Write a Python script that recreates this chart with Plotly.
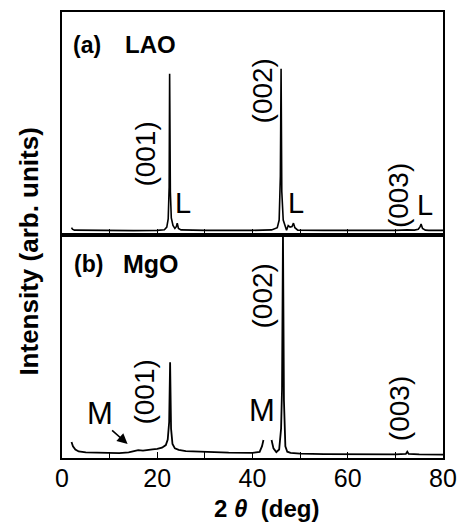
import plotly.graph_objects as go

# ---- data (2theta in deg, intensity in arb. units) ----
lao_x = [2.0, 2.2, 2.6, 5, 10, 15, 20, 21.5, 22.0, 22.3, 22.5, 22.6, 22.75, 22.95, 23.3, 23.7, 24.0, 24.2, 24.45, 25.0,
         30, 35, 40, 44, 45.2, 45.6, 45.85, 46.0, 46.15, 46.45, 46.8, 47.15, 47.5, 47.9, 48.3, 48.6, 48.9, 49.5,
         55, 60, 65, 70, 72.5, 74.0, 74.8, 75.2, 75.4, 75.7, 76.3, 77, 80]
lao_y = [1.6, 0.8, 0.4, 0.3, 0.2, 0.2, 0.3, 0.6, 1.8, 5.5, 20, 71.8, 18, 6.0, 2.5, 1.2, 2.0, 3.6, 1.2, 0.5,
         0.3, 0.2, 0.3, 0.5, 1.5, 5.0, 25, 74.1, 18, 5, 2.5, 0.3, 2.5, 1.8, 2.0, 3.6, 1.5, 0.4,
         0.3, 0.2, 0.2, 0.3, 0.5, 0.4, 0.8, 2.0, 3.2, 1.2, 0.4, 0.3, 0.3]

mgo_x = [2.0, 2.3, 2.8, 3.5, 5, 8, 10, 12, 14, 15, 16, 17, 18, 19, 20, 21, 21.8, 22.2, 22.5, 22.7, 22.9, 23.2,
         23.7, 24.5, 26, 30, 35, 40, 41.5, 42.0, 42.3, None, 44.0, 44.4, 45.0, 45.6, 46.0, 46.2, 46.4, 46.6,
         46.9, 47.3, 48, 50, 55, 60, 65, 70, 72.2, 72.5, 72.8, 75, 80]
mgo_y = [5.9, 4.0, 2.5, 1.6, 1.2, 1.0, 0.9, 0.9, 1.2, 1.8, 2.2, 2.0, 2.4, 2.6, 2.8, 3.3, 4.5, 7, 15, 42.1, 12, 5,
         3.0, 2.3, 1.8, 1.4, 1.1, 1.0, 1.4, 4.0, 6.8, None, 6.8, 3.0, 1.3, 2.5, 12, 30, 101, 25,
         4, 1.5, 1.0, 0.6, 0.4, 0.3, 0.3, 0.3, 0.5, 1.5, 0.5, 0.3, 0.2]

tick_vals = [0, 10, 20, 30, 40, 50, 60, 70, 80]
tick_text = ["0", "", "20", "", "40", "", "60", "", "80"]

FONT = "Liberation Sans, Arial, Helvetica, sans-serif"
W, H = 467, 525
L, R, T, B = 62, 16, 10, 67
PW, PH = W - L - R, H - T - B


def px(xp):
    return (xp - L) / PW


def py(yp):
    return (H - B - yp) / PH


fig = go.Figure()
fig.add_trace(go.Scatter(x=lao_x, y=lao_y, mode="lines", xaxis="x2", yaxis="y2",
                         line=dict(color="black", width=1.6), connectgaps=False, showlegend=False))
fig.add_trace(go.Scatter(x=mgo_x, y=mgo_y, mode="lines", xaxis="x", yaxis="y",
                         line=dict(color="black", width=1.8), connectgaps=False, showlegend=False))

axis_common = dict(showline=True, linecolor="black", linewidth=1.6, mirror=True, showgrid=False, zeroline=False)

fig.update_layout(
    width=W, height=H,
    margin=dict(l=L, r=R, t=T, b=B),
    paper_bgcolor="white", plot_bgcolor="white",
    font=dict(family=FONT, color="black"),
    xaxis=dict(**axis_common, range=[0, 80], anchor="y", domain=[0, 1],
               tickmode="array", tickvals=tick_vals, ticktext=tick_text,
               ticks="inside", ticklen=6, tickwidth=1.4, tickcolor="black",
               ticklabelstandoff=-3,
               tickfont=dict(size=25, family=FONT)),
    yaxis=dict(**axis_common, range=[-1.36, 100], domain=[0, 0.5], anchor="x",
               showticklabels=False, ticks=""),
    xaxis2=dict(**axis_common, range=[0, 80], anchor="y2", domain=[0, 1],
                tickmode="array", tickvals=tick_vals, showticklabels=False,
                ticks="inside", ticklen=6, tickwidth=1.4, tickcolor="black"),
    yaxis2=dict(**axis_common, range=[-1.82, 100], domain=[0.5, 1], anchor="x2",
                showticklabels=False, ticks=""),
)

ann = []


def text(xp, yp, s, size, angle=0, bold=False, xanchor="center"):
    ann.append(dict(xref="paper", yref="paper", x=px(xp), y=py(yp), text=("<b>%s</b>" % s) if bold else s,
                    showarrow=False, textangle=angle, xanchor=xanchor, yanchor="middle",
                    font=dict(size=size, family=FONT, color="black")))


# panel labels
text(71, 43, "(a)", 23, bold=True, xanchor="left")
text(124, 43, "LAO", 24, bold=True, xanchor="left")
text(72, 263, "(b)", 23, bold=True, xanchor="left")
text(122, 263, "MgO", 25, bold=True, xanchor="left")

# Miller indices (panel a)
text(147, 153, "(001)", 28, angle=-90)
text(267, 89, "(002)", 28, angle=-90)
text(405, 194, "(003)", 28, angle=-90)
# L labels
text(186, 202, "L", 29)
text(301, 202, "L", 29)
text(433, 204, "L", 29)

# Miller indices (panel b)
text(146, 392, "(001)", 28, angle=-90)
text(267, 295, "(002)", 28, angle=-90)
text(406, 408, "(003)", 28, angle=-90)
# M labels
text(101, 413, "M", 31)
text(266, 410, "M", 31)

# arrow (tail offset in pixels)
ann.append(dict(xref="paper", yref="paper", axref="pixel", ayref="pixel",
                x=px(129), y=py(444), ax=-17, ay=-15,
                showarrow=True, arrowhead=2, arrowsize=1.3, arrowwidth=1.6, arrowcolor="black", text=""))

# axis titles
text(271, 509, "2 <i>θ</i>  (deg)", 24, bold=True)
text(28, 251, "Intensity (arb. units)", 26, angle=-90, bold=True)

fig.update_layout(annotations=ann)
fig.write_html("out.html")
